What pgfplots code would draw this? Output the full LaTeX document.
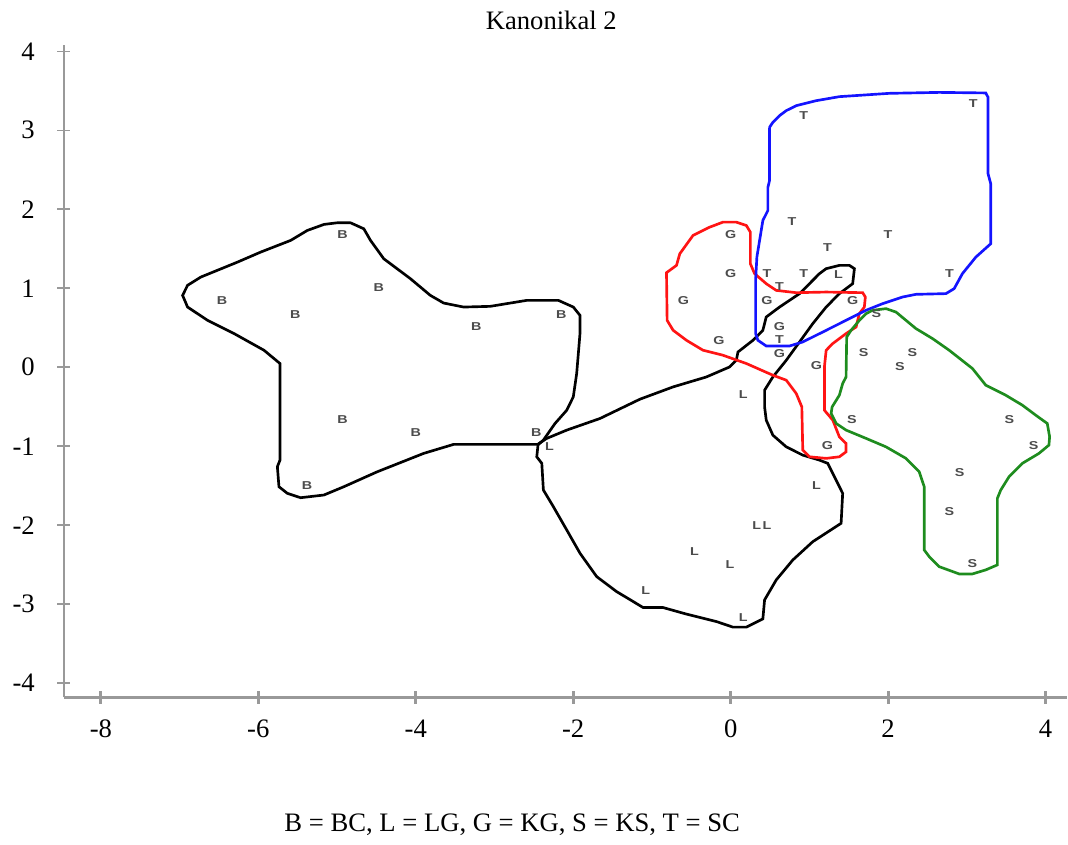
\documentclass[border=0pt]{standalone}
\usepackage{fontspec}
\setmainfont{Liberation Serif}
\setsansfont{Liberation Sans}
\usepackage{pgfplots}
\usepackage{pgfplotstable}
\pgfplotsset{compat=1.18}

\pgfplotstableread{
x y
-4.829 1.829
-4.660 1.753
-4.575 1.606
-4.407 1.374
-4.068 1.121
-3.815 0.910
-3.646 0.813
-3.393 0.762
-3.054 0.771
-2.589 0.847
-2.189 0.847
-1.999 0.762
-1.914 0.657
-1.914 0.426
-1.935 0.173
-1.956 -0.080
-1.999 -0.375
-2.082 -0.544
-2.231 -0.712
-2.379 -0.923
-2.442 -0.977
-3.520 -0.977
-3.900 -1.091
-4.490 -1.324
-4.914 -1.513
-5.167 -1.618
-5.463 -1.652
-5.631 -1.597
-5.738 -1.513
-5.758 -1.260
-5.725 -1.176
-5.725 0.047
-5.928 0.215
-6.308 0.426
-6.645 0.594
-6.899 0.762
-6.962 0.910
-6.899 1.037
-6.730 1.142
-6.265 1.331
-5.970 1.458
-5.589 1.606
-5.378 1.732
-5.167 1.808
-4.998 1.829
-4.829 1.829
}\outB

\pgfplotstableread{
x y
-2.446 -0.973
-2.463 -1.134
-2.399 -1.217
-2.379 -1.555
-2.252 -1.766
-2.082 -2.061
-1.914 -2.355
-1.702 -2.651
-1.449 -2.841
-1.238 -2.967
-1.112 -3.043
-0.858 -3.043
-0.561 -3.126
-0.181 -3.220
0.029 -3.291
0.199 -3.291
0.409 -3.186
0.431 -2.946
0.579 -2.693
0.790 -2.440
1.043 -2.209
1.403 -1.976
1.423 -1.597
1.297 -1.344
1.233 -1.217
1.128 -1.176
0.916 -1.113
0.706 -1.008
0.536 -0.860
0.452 -0.670
0.431 -0.502
0.431 -0.291
0.536 -0.123
0.706 0.088
0.875 0.320
1.043 0.552
1.213 0.762
1.381 0.932
1.550 1.058
1.572 1.248
1.508 1.290
1.381 1.290
1.213 1.248
1.128 1.185
1.001 1.058
0.875 0.932
0.621 0.762
0.452 0.636
0.409 0.468
0.283 0.341
0.093 0.193
0.072 0.088
-0.013 0.004
-0.308 -0.123
-0.731 -0.249
-1.153 -0.405
-1.660 -0.649
-2.082 -0.796
-2.336 -0.901
-2.446 -0.973
}\outL

\pgfplotstableread{
x y
0.072 1.837
0.199 1.795
0.250 1.711
0.250 1.311
0.304 1.185
0.452 1.058
0.579 0.973
0.833 0.944
1.213 0.952
1.677 0.944
1.711 0.889
1.698 0.762
1.635 0.679
1.593 0.509
1.466 0.426
1.297 0.300
1.213 0.215
1.191 0.004
1.191 -0.544
1.297 -0.670
1.381 -0.881
1.466 -0.965
1.466 -1.071
1.381 -1.134
1.213 -1.154
1.001 -1.134
0.916 -1.049
0.904 -0.502
0.833 -0.332
0.706 -0.164
0.536 -0.101
0.199 0.047
-0.098 0.152
-0.351 0.215
-0.561 0.341
-0.731 0.468
-0.807 0.594
-0.815 1.197
-0.688 1.290
-0.646 1.437
-0.478 1.669
-0.266 1.774
-0.098 1.837
0.072 1.837
}\outG

\pgfplotstableread{
x y
0.494 3.038
0.536 3.101
0.621 3.186
0.706 3.249
0.833 3.312
1.086 3.375
1.381 3.426
2.015 3.468
2.649 3.480
3.241 3.473
3.270 3.417
3.270 2.449
3.304 2.322
3.304 1.564
3.114 1.394
2.944 1.185
2.839 0.995
2.734 0.932
2.354 0.923
2.184 0.889
1.930 0.805
1.720 0.721
1.466 0.594
1.170 0.446
0.916 0.320
0.748 0.269
0.452 0.269
0.346 0.341
0.317 0.426
0.317 1.100
0.333 1.394
0.409 1.858
0.473 1.985
0.473 2.279
0.494 2.364
0.494 3.038
}\outT

\pgfplotstableread{
x y
1.804 0.721
1.973 0.742
2.100 0.699
2.227 0.594
2.354 0.489
2.564 0.363
2.776 0.215
3.071 -0.016
3.241 -0.228
3.494 -0.354
3.705 -0.480
3.875 -0.607
4.022 -0.712
4.052 -0.881
4.043 -0.986
3.916 -1.091
3.705 -1.217
3.536 -1.387
3.431 -1.555
3.388 -1.660
3.388 -2.503
3.241 -2.566
3.071 -2.617
2.902 -2.617
2.649 -2.525
2.522 -2.398
2.459 -2.314
2.459 -1.513
2.395 -1.324
2.227 -1.154
1.973 -1.008
1.720 -0.901
1.466 -0.796
1.340 -0.712
1.276 -0.585
1.289 -0.502
1.381 -0.354
1.423 -0.206
1.466 -0.123
1.474 0.383
1.530 0.468
1.635 0.594
1.720 0.679
1.804 0.721
}\outS

\pgfplotstableread{
lab x y
B -4.93 1.68
B -4.47 1.01
B -6.46 0.84
B -5.53 0.67
B -3.23 0.51
B -2.15 0.67
B -4.93 -0.66
B -4.00 -0.83
B -2.47 -0.83
B -5.38 -1.50
L -2.30 -1.01
L 0.16 -0.34
L 1.09 -1.50
L 0.33 -2.01
L 0.46 -2.01
L -0.46 -2.34
L -0.01 -2.50
L -1.08 -2.83
L 0.16 -3.17
L 1.37 1.17
G 0.00 1.68
G 0.00 1.18
G -0.60 0.85
G 0.46 0.85
G 1.55 0.85
G 0.62 0.51
G -0.15 0.34
G 0.62 0.17
G 1.09 0.02
G 1.23 -0.99
T 0.93 3.19
T 3.08 3.34
T 0.78 1.85
T 2.00 1.68
T 1.23 1.52
T 0.46 1.18
T 0.93 1.18
T 2.78 1.18
T 0.62 1.02
T 0.62 0.35
S 1.85 0.68
S 1.69 0.18
S 2.31 0.18
S 2.15 0.01
S 1.54 -0.66
S 3.54 -0.66
S 3.85 -0.99
S 2.91 -1.33
S 2.78 -1.83
S 3.07 -2.49
}\pts

\definecolor{ablue}{RGB}{20,20,255}
\definecolor{ared}{RGB}{255,20,20}
\definecolor{agreen}{RGB}{30,140,30}

\begin{document}
\begin{tikzpicture}
\begin{axis}[
  scale only axis, width=376.5pt, height=244.9pt,
  xmin=-8.47, xmax=4.27, ymin=-4.18, ymax=4.08,
  axis x line=bottom, axis y line=left,
  axis line style={-, line width=0.9pt, color=black!40},
  xtick={-8,-6,-4,-2,0,2,4}, xticklabels={-8,-6,-4,-2,0,2,4},
  ytick={-4,-3,-2,-1,0,1,2,3,4}, yticklabels={-4,-3,-2,-1,0,1,2,3,4},
  tick align=center, major tick length=4.8pt,
  tick style={black!40, line width=0.6pt},
  x tick style={line width=1.1pt},
  tick label style={font=\fontsize{10}{12}\selectfont},
  xticklabel style={yshift=-2.5pt},
  yticklabel style={xshift=-5pt},
  clip=false,
]
\addplot[black, line width=1pt] table[x=x,y=y] {\outB};
\addplot[black, line width=1pt] table[x=x,y=y] {\outL};
\addplot[ared, line width=1pt] table[x=x,y=y] {\outG};
\addplot[ablue, line width=1pt] table[x=x,y=y] {\outT};
\addplot[agreen, line width=1pt] table[x=x,y=y] {\outS};
\addplot[only marks, mark=*, mark options={draw opacity=0, fill opacity=0},
  point meta=explicit symbolic, nodes near coords,
  nodes near coords style={anchor=center, inner sep=0pt, xscale=1.25, text=black!70,
    opacity=1, text opacity=1, fill opacity=1, draw opacity=1,
    font=\sffamily\bfseries\fontsize{4.3}{5}\selectfont}]
  table[x=x, y=y, meta=lab] {\pts};
\node[font=\fontsize{10}{12}\selectfont] at (rel axis cs:0.486,1.038) {Kanonikal 2};
\node[font=\fontsize{10}{12}\selectfont] at (rel axis cs:0.447,-0.196) {B = BC, L = LG, G = KG, S = KS, T = SC};
\path (rel axis cs:-0.0637,-0.216) rectangle (rel axis cs:1.0,1.069);
\end{axis}
\end{tikzpicture}
\end{document}
